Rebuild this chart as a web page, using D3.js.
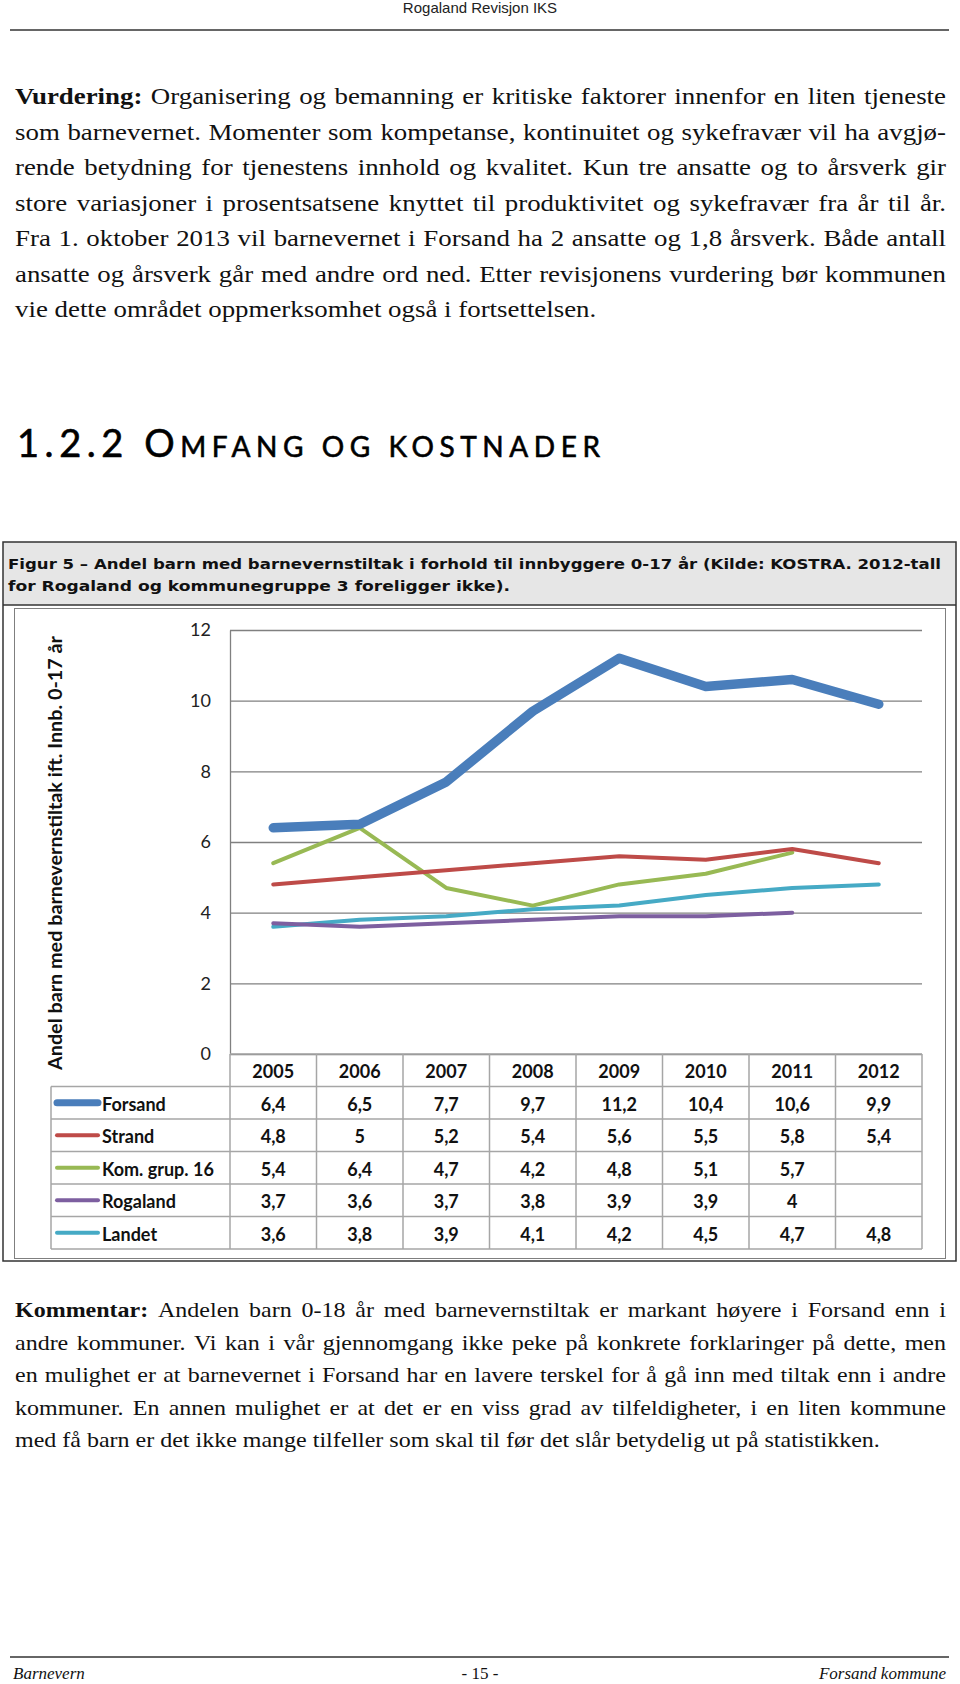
<!DOCTYPE html>
<html>
<head>
<meta charset="utf-8">
<script src="https://cdn.jsdelivr.net/npm/d3@7"></script>
<style>
  html, body { margin: 0; padding: 0; background: #fff; }
  svg { display: block; }
</style>
</head>
<body>
<svg id="page" width="960" height="1684"></svg>
<script>
// ---------------- DATA ----------------
const years = ["2005", "2006", "2007", "2008", "2009", "2010", "2011", "2012"];
const seriesNames = ["Forsand", "Strand", "Kom. grup. 16", "Rogaland", "Landet"];
const forsand  = [6.4, 6.5, 7.7, 9.7, 11.2, 10.4, 10.6, 9.9];
const strand   = [4.8, 5.0, 5.2, 5.4, 5.6, 5.5, 5.8, 5.4];
const komgrup  = [5.4, 6.4, 4.7, 4.2, 4.8, 5.1, 5.7, null];
const rogaland = [3.7, 3.6, 3.7, 3.8, 3.9, 3.9, 4.0, null];
const landet   = [3.6, 3.8, 3.9, 4.1, 4.2, 4.5, 4.7, 4.8];
const yTicks = [0, 2, 4, 6, 8, 10, 12];

const seriesColors = ["#4A7EBB", "#BE4B48", "#98B954", "#7D5FA0", "#46AAC5"];

const headerText = "Rogaland Revisjon IKS";
const topPara = [
  {bold: "Vurdering:", text: "Organisering og bemanning er kritiske faktorer innenfor en liten tjeneste"},
  {text: "som barnevernet. Momenter som kompetanse, kontinuitet og sykefravær vil ha avgjø-"},
  {text: "rende betydning for tjenestens innhold og kvalitet. Kun tre ansatte og to årsverk gir"},
  {text: "store variasjoner i prosentsatsene knyttet til produktivitet og sykefravær fra år til år."},
  {text: "Fra 1. oktober 2013 vil barnevernet i Forsand ha 2 ansatte og 1,8 årsverk. Både antall"},
  {text: "ansatte og årsverk går med andre ord ned. Etter revisjonens vurdering bør kommunen"},
  {text: "vie dette området oppmerksomhet også i fortsettelsen."}
];
const commentPara = [
  {bold: "Kommentar:", text: "Andelen barn 0-18 år med barnevernstiltak er markant høyere i Forsand enn i"},
  {text: "andre kommuner. Vi kan i vår gjennomgang ikke peke på konkrete forklaringer på dette, men"},
  {text: "en mulighet er at barnevernet i Forsand har en lavere terskel for å gå inn med tiltak enn i andre"},
  {text: "kommuner. En annen mulighet er at det er en viss grad av tilfeldigheter, i en liten kommune"},
  {text: "med få barn er det ikke mange tilfeller som skal til før det slår betydelig ut på statistikken."}
];
const captionLines = [
  "Figur 5 – Andel barn med barnevernstiltak i forhold til innbyggere 0-17 år (Kilde: KOSTRA. 2012-tall",
  "for Rogaland og kommunegruppe 3 foreligger ikke)."
];
const yAxisTitle = "Andel barn med barnevernstiltak ift. Innb. 0-17 år";

// ---------------- DRAW ----------------
const svg = d3.select("#page");
const seriesValues = [forsand, strand, komgrup, rogaland, landet];
const series = seriesNames.map((name, i) => ({name, color: seriesColors[i], values: seriesValues[i]}));

// Header
svg.append("text").attr("x", 480).attr("y", 13).attr("text-anchor", "middle")
  .style("font-family", "Liberation Sans, Arial, sans-serif").style("font-size", "15px").attr("fill", "#222")
  .text(headerText);
svg.append("line").attr("x1", 10).attr("x2", 949).attr("y1", 30).attr("y2", 30)
  .attr("stroke", "#333").attr("stroke-width", 1.5);

// Justified paragraph helper (text horizontally widened by sx to mimic a Palatino-like face)
function paragraph(lines, x0, y0, lh, fs, sx, width) {
  const w = width / sx;
  lines.forEach((ln, i) => {
    const t = svg.append("text")
      .attr("transform", `translate(${x0},${y0 + i * lh}) scale(${sx},1)`)
      .style("font-family", "'Liberation Serif', 'Times New Roman', serif")
      .style("font-size", fs + "px").attr("fill", "#111");
    const words = [];
    if (ln.bold) words.push({w: ln.bold, b: true});
    ln.text.split(" ").forEach(word => words.push({w: word, b: false}));
    const last = i === lines.length - 1;
    const spans = words.map(d => t.append("tspan").text(d.w).attr("font-weight", d.b ? "bold" : null));
    const widths = spans.map(s => s.node().getComputedTextLength());
    const total = d3.sum(widths);
    const gap = last ? fs * 0.25 : (w - total) / (words.length - 1);
    let cx = 0;
    spans.forEach((s, j) => { s.attr("x", cx); cx += widths[j] + gap; });
  });
}
paragraph(topPara, 15, 104, 35.5, 24, 1.12, 931);

// Section heading
const h = svg.append("text").attr("x", 17).attr("y", 457)
  .style("font-family", "Lato, 'Open Sans', sans-serif").attr("fill", "#000")
  .attr("stroke", "#000").attr("stroke-width", 0.6)
  .attr("textLength", 583).attr("lengthAdjust", "spacing");
h.append("tspan").style("font-size", "38px").text("1.2.2 O");
h.append("tspan").style("font-size", "28px").text("MFANG OG KOSTNADER");

// Figure box
svg.append("rect").attr("x", 3).attr("y", 542).attr("width", 953).attr("height", 63)
  .attr("fill", "#E6E6E6");
svg.append("rect").attr("x", 3).attr("y", 542).attr("width", 953).attr("height", 719)
  .attr("fill", "none").attr("stroke", "#333").attr("stroke-width", 1.5);
svg.append("line").attr("x1", 3).attr("x2", 956).attr("y1", 605).attr("y2", 605)
  .attr("stroke", "#333").attr("stroke-width", 1.5);
const capLens = [933, 502];
captionLines.forEach((c, i) => {
  svg.append("text").attr("x", 8).attr("y", 569 + i * 22)
    .style("font-family", "'DejaVu Sans', Verdana, sans-serif").style("font-weight", "bold")
    .style("font-size", "14.5px").attr("fill", "#111")
    .attr("textLength", capLens[i]).attr("lengthAdjust", "spacingAndGlyphs").text(c);
});

// Chart frame
svg.append("rect").attr("x", 14.5).attr("y", 608.5).attr("width", 931).attr("height", 650)
  .attr("fill", "#fff").attr("stroke", "#7f7f7f").attr("stroke-width", 1);

// Scales
const x = d3.scaleBand().domain(years).range([230, 922]).padding(0);
const y = d3.scaleLinear().domain([0, 12]).range([1054, 630]);
const rowBand = d3.scaleBand().domain(["__header", ...seriesNames]).range([1054, 1249]);

// Y axis with gridlines
const yAxis = d3.axisLeft(y).tickValues(yTicks).tickSize(-(922 - 230)).tickSizeOuter(0).tickPadding(19)
  .tickFormat(d3.format("d"));
const gy = svg.append("g").attr("transform", "translate(230,0)").call(yAxis);
gy.select(".domain").attr("stroke", "#808080").attr("stroke-width", 1.3);
gy.selectAll(".tick line").attr("stroke", "#808080").attr("stroke-width", 1.3);
gy.selectAll(".tick text").style("font-family", "Lato, Calibri, sans-serif").style("font-size", "18px")
  .attr("fill", "#222");

// Y axis title
svg.append("text").attr("transform", "translate(62,1070) rotate(-90)")
  .style("font-family", "Lato, Calibri, sans-serif").style("font-weight", "bold").style("font-size", "18px")
  .attr("fill", "#111").attr("textLength", 434).attr("lengthAdjust", "spacingAndGlyphs")
  .text(yAxisTitle);

// Data table grid
const tbl = svg.append("g").attr("stroke", "#a6a6a6").attr("stroke-width", 1.5);
const rowEdges = [rowBand("__header") + rowBand.bandwidth(), ...seriesNames.map(n => rowBand(n) + rowBand.bandwidth())];
rowEdges.forEach(yy => tbl.append("line").attr("x1", 51).attr("x2", 922).attr("y1", yy).attr("y2", yy));
tbl.append("line").attr("x1", 51).attr("x2", 51).attr("y1", rowEdges[0]).attr("y2", rowEdges[rowEdges.length - 1]);
const colEdges = [...years.map(yr => x(yr)), 922];
colEdges.forEach(xx => tbl.append("line").attr("x1", xx).attr("x2", xx)
  .attr("y1", 1054).attr("y2", rowEdges[rowEdges.length - 1]));
tbl.append("line").attr("x1", 230).attr("x2", 922).attr("y1", 1054).attr("y2", 1054);

const tfont = sel => sel.style("font-family", "Lato, Calibri, sans-serif").style("font-weight", "bold")
  .style("font-size", "18px").attr("fill", "#111").attr("dominant-baseline", "central");

// Header years
svg.append("g").selectAll("text").data(years).join("text")
  .attr("x", d => x(d) + x.bandwidth() / 2).attr("y", rowBand("__header") + rowBand.bandwidth() / 2 + 1)
  .attr("text-anchor", "middle").call(tfont).text(d => d);

// Rows
const rows = svg.append("g").selectAll("g").data(series).join("g")
  .attr("transform", d => `translate(0,${rowBand(d.name) + rowBand.bandwidth() / 2})`);
rows.append("line").attr("x1", 57).attr("x2", 98).attr("y1", 0).attr("y2", 0)
  .attr("stroke", d => d.color).attr("stroke-linecap", "round")
  .attr("stroke-width", (d, i) => i === 0 ? 7 : 4);
rows.append("text").attr("x", 102).attr("y", 1).call(tfont).text(d => d.name);
rows.selectAll("text.v").data(d => d.values.map((v, i) => ({v, yr: years[i]}))).join("text")
  .attr("class", "v").attr("x", d => x(d.yr) + x.bandwidth() / 2).attr("y", 1)
  .attr("text-anchor", "middle").call(tfont)
  .text(d => d.v == null ? "" : String(d.v).replace(".", ","));

// Lines
const line = d3.line().defined(d => d.v != null)
  .x(d => x(d.yr) + x.bandwidth() / 2).y(d => y(d.v));
const drawOrder = [4, 3, 2, 1, 0];
svg.append("g").selectAll("path").data(drawOrder.map(i => ({s: series[i], i}))).join("path")
  .attr("d", d => line(d.s.values.map((v, k) => ({v, yr: years[k]}))))
  .attr("fill", "none").attr("stroke", d => d.s.color)
  .attr("stroke-width", d => d.i === 0 ? 9.5 : 4)
  .attr("stroke-linejoin", "round").attr("stroke-linecap", "round");

// Comment paragraph
paragraph(commentPara, 15, 1317, 32.6, 20, 1.2, 931);

// Footer
svg.append("line").attr("x1", 10).attr("x2", 949).attr("y1", 1657).attr("y2", 1657)
  .attr("stroke", "#333").attr("stroke-width", 1.5);
const ff = sel => sel.style("font-family", "'Liberation Serif', serif").style("font-style", "italic")
  .style("font-size", "17px").attr("fill", "#111");
svg.append("text").attr("x", 13).attr("y", 1679).call(ff).text("Barnevern");
svg.append("text").attr("x", 480).attr("y", 1679).attr("text-anchor", "middle").call(ff).style("font-style", "normal").text("- 15 -");
svg.append("text").attr("x", 946).attr("y", 1679).attr("text-anchor", "end").call(ff).text("Forsand kommune");
</script>
</body>
</html>
